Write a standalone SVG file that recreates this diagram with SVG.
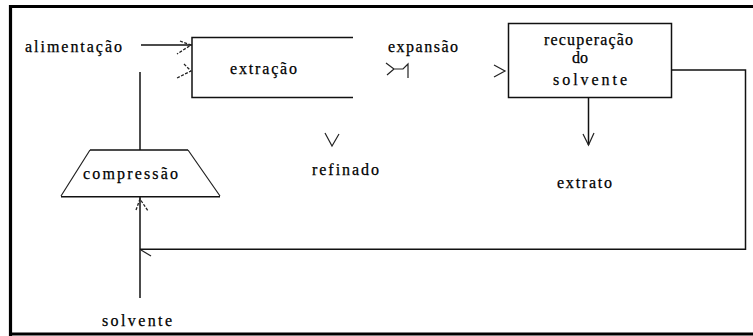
<svg xmlns="http://www.w3.org/2000/svg" width="753" height="336" viewBox="0 0 753 336">
<style>
text{font-family:'Liberation Serif','Times New Roman',serif;font-size:16px;fill:#000;stroke:#000;stroke-width:0.25}
.ln{stroke:#111;stroke-width:1.5;fill:none}
.thin{stroke:#222;stroke-width:1.2;fill:none}
.dot{stroke:#222;stroke-width:1.3;fill:none;stroke-dasharray:3 1.5}
</style>
<rect width="753" height="336" fill="#fff"/>
<g id="frame"><path d="M10.5,336 V6.5 H753 M10,334 H753" stroke="#000" stroke-width="3.2" fill="none"/></g>
<g id="node-alimentacao"><text x="25" y="52" textLength="97" lengthAdjust="spacing">alimentação</text></g>
<g id="node-extracao">
<path class="ln" d="M353,37.5 H192 V97.5 H353"/>
<text x="230" y="74" textLength="67" lengthAdjust="spacing">extração</text>
</g>
<g id="node-expansao">
<text x="388" y="52" textLength="70" lengthAdjust="spacing">expansão</text>
<path class="thin" d="M386,63 L394,69 L387,75 M394,69 H403 L408,64 V78"/>
</g>
<g id="node-recuperacao">
<rect x="508.5" y="23.5" width="163" height="74" class="ln"/>
<text x="544" y="45" textLength="89" lengthAdjust="spacing">recuperação</text>
<text x="572" y="63">do</text>
<text x="553" y="85" textLength="74" lengthAdjust="spacing">solvente</text>
</g>
<g id="node-compressao">
<path class="ln" d="M90,150 H188 M61,196.7 H220"/>
<path class="thin" d="M90,150 L61,196 M188,150 L220,196"/>
<text x="83" y="179" textLength="95" lengthAdjust="spacing">compressão</text>
</g>
<g id="node-refinado"><text x="312" y="175" textLength="67" lengthAdjust="spacing">refinado</text></g>
<g id="node-extrato"><text x="557" y="188" textLength="55" lengthAdjust="spacing">extrato</text></g>
<g id="node-solvente"><text x="102" y="326" textLength="70" lengthAdjust="spacing">solvente</text></g>
<g id="connectors">
<path class="ln" d="M141,45 H192"/>
<path class="dot" d="M180,41 L191,45 L177,54"/>
<path class="ln" d="M140,150 V72"/>
<path class="dot" d="M184,64 L191,71 L177,78"/>
<path class="thin" d="M325,133 L332,146 L339,134"/>
<path class="thin" d="M494,65 L505,71 L494,77"/>
<path class="ln" d="M588.5,97.5 V145"/>
<path class="thin" d="M583,134 L588.5,145 L594,133"/>
<path class="ln" d="M671.5,70 H745.5 V249.3 H140"/>
<path class="thin" d="M141,250 L151,256"/>
<path class="ln" d="M140,196.7 V298"/>
<path class="dot" d="M136,210 L140,199 L148,211"/>
</g>
</svg>
